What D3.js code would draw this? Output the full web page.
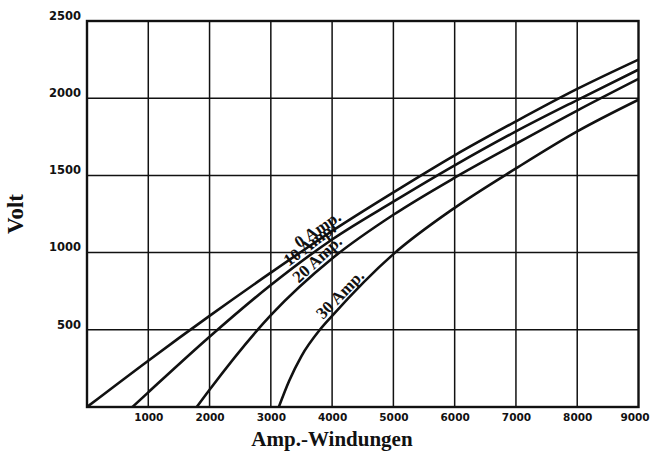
<!DOCTYPE html>
<html>
<head>
<meta charset="utf-8">
<script src="https://cdn.jsdelivr.net/npm/d3@7"></script>
<style>
  html, body { margin: 0; padding: 0; background: #fff; }
  svg { display: block; }
</style>
</head>
<body>
<div id="chart"></div>
<script>
// Ampere-turns on the x axis, volts on the y axis
const xTicks = [1000, 2000, 3000, 4000, 5000, 6000, 7000, 8000, 9000];
const yTicks = [500, 1000, 1500, 2000, 2500];
const seriesNames = ["0 Amp.", "10 Amp.", "20 Amp.", "30 Amp."];

// Characteristic curves: [Amp.-Windungen, Volt]
const curve0 = [[0, 0], [1000, 300], [2000, 590], [3000, 870], [4000, 1140], [5000, 1390], [6000, 1630], [7000, 1850], [8000, 2060], [9000, 2250]];
const curve10 = [[740, 0], [1000, 95], [2000, 455], [3000, 790], [4000, 1085], [5000, 1330], [6000, 1565], [7000, 1785], [8000, 1988], [9000, 2185]];
const curve20 = [[1790, 0], [2000, 112], [3000, 595], [4000, 962], [5000, 1245], [6000, 1485], [7000, 1705], [8000, 1920], [9000, 2125]];
const curve30 = [[3130, 0], [3300, 170], [3500, 330], [3800, 500], [4000, 590], [5000, 990], [6000, 1290], [7000, 1545], [8000, 1785], [9000, 1990]];
const curves = [curve0, curve10, curve20, curve30];

// where along each curve (in Amp.-Windungen) its label starts
const labelStart = [3500, 3330, 3500, 3900];

const W = 652, H = 453;
const svg = d3.select("#chart").append("svg")
  .attr("width", W).attr("height", H);

const x = d3.scaleLinear().domain([0, 9000]).range([87, 638.5]);
const y = d3.scaleLinear().domain([0, 2500]).range([407, 21]);

const ink = "#111";

// grid
const grid = svg.append("g");
grid.selectAll("line.v").data(xTicks.slice(0, -1)).join("line")
  .attr("x1", d => x(d)).attr("x2", d => x(d))
  .attr("y1", y(0)).attr("y2", y(2500))
  .attr("stroke", ink).attr("stroke-width", 1.5);
grid.selectAll("line.h").data(yTicks.slice(0, -1)).join("line")
  .attr("x1", x(0)).attr("x2", x(9000))
  .attr("y1", d => y(d)).attr("y2", d => y(d))
  .attr("stroke", ink).attr("stroke-width", 1.5);

// frame
svg.append("rect")
  .attr("x", x(0)).attr("y", y(2500))
  .attr("width", x(9000) - x(0)).attr("height", y(0) - y(2500))
  .attr("fill", "none").attr("stroke", ink).attr("stroke-width", 2.4);

// axes (labels only, the frame draws the lines)
const fmt = d3.format("d");
const xAxis = d3.axisBottom(x).tickValues(xTicks).tickFormat(fmt).tickSize(0).tickPadding(0);
const gx = svg.append("g").attr("transform", `translate(0,${y(0)})`).call(xAxis);
gx.select(".domain").remove();
gx.selectAll("text")
  .attr("dy", "1.3em")
  .attr("font-family", "'DejaVu Sans', sans-serif")
  .attr("font-weight", "bold")
  .attr("font-size", 10.5)
  .attr("fill", ink);
gx.selectAll(".tick").filter(d => d === 9000).select("text").attr("dx", -4);

const yAxis = d3.axisLeft(y).tickValues(yTicks).tickFormat(fmt).tickSize(0).tickPadding(0);
const gy = svg.append("g").attr("transform", `translate(${x(0) - 6},0)`).call(yAxis);
gy.select(".domain").remove();
gy.selectAll("text")
  .attr("dy", "-0.15em")
  .attr("font-family", "'DejaVu Sans', sans-serif")
  .attr("font-weight", "bold")
  .attr("font-size", 11.5)
  .attr("fill", ink);

// curves
const line = d3.line().x(d => x(d[0])).y(d => y(d[1])).curve(d3.curveMonotoneX);
svg.append("clipPath").attr("id", "plot")
  .append("rect").attr("x", x(0)).attr("y", y(2500))
  .attr("width", x(9000) - x(0)).attr("height", y(0) - y(2500));
svg.append("g").attr("clip-path", "url(#plot)")
  .selectAll("path").data(curves).join("path")
  .attr("d", line)
  .attr("fill", "none")
  .attr("stroke", ink)
  .attr("stroke-width", 2.6)
  .attr("stroke-linejoin", "round");

// value on a curve at a given Amp.-Windungen, linear between points
function valueAt(pts, a) {
  for (let i = 1; i < pts.length; i++) {
    if (a <= pts[i][0]) {
      const t = (a - pts[i - 1][0]) / (pts[i][0] - pts[i - 1][0]);
      return pts[i - 1][1] + t * (pts[i][1] - pts[i - 1][1]);
    }
  }
  return pts[pts.length - 1][1];
}

// curve labels, written along each curve
seriesNames.forEach((name, i) => {
  const a0 = labelStart[i], a1 = a0 + 500;
  const px0 = x(a0), py0 = y(valueAt(curves[i], a0));
  const px1 = x(a1), py1 = y(valueAt(curves[i], a1));
  const ang = Math.atan2(py1 - py0, px1 - px0) * 180 / Math.PI;
  svg.append("text")
    .attr("transform", `translate(${px0},${py0}) rotate(${ang})`)
    .attr("dy", -4)
    .attr("font-family", "'Liberation Serif', serif")
    .attr("font-weight", "bold")
    .attr("font-size", 17)
    .attr("fill", ink)
    .text(name);
});

// axis titles
svg.append("text")
  .attr("x", 332).attr("y", 446)
  .attr("text-anchor", "middle")
  .attr("font-family", "'Liberation Serif', serif")
  .attr("font-weight", "bold")
  .attr("font-size", 21)
  .attr("fill", ink)
  .text("Amp.-Windungen");

svg.append("text")
  .attr("transform", "translate(23,214) rotate(-90)")
  .attr("text-anchor", "middle")
  .attr("font-family", "'Liberation Serif', serif")
  .attr("font-weight", "bold")
  .attr("font-size", 23)
  .attr("fill", ink)
  .text("Volt");
</script>
</body>
</html>
